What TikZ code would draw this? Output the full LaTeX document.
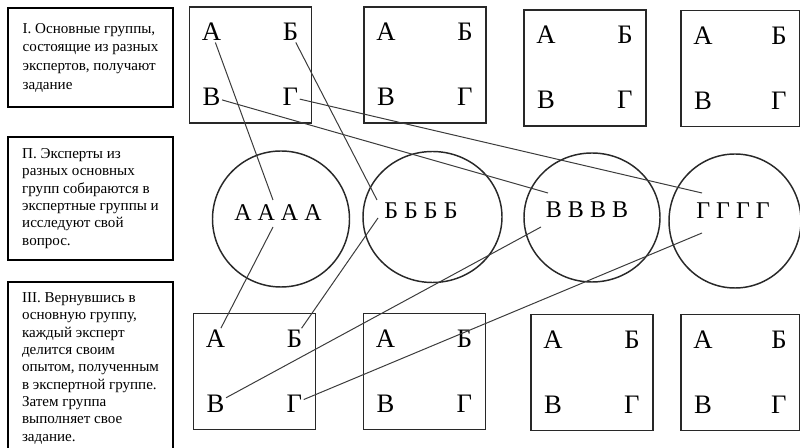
\documentclass[tikz,border=0pt]{standalone}
\usepackage{fontspec}
\setmainfont{Liberation Serif}
\usetikzlibrary{positioning,shapes.geometric}
\definecolor{LineGray}{RGB}{60,60,60}
\definecolor{FrameDark}{RGB}{40,40,40}
\tikzset{
  stage/.style={draw=black,line width=0.8pt,align=left,minimum width=123.75pt,inner sep=0pt,
    font=\fontsize{11.3}{13}\selectfont},
  grp/.style={draw=FrameDark,line width=1.4pt,minimum width=91.5pt,minimum height=87pt,inner sep=0pt},
  let/.style={inner sep=1pt,font=\fontsize{20}{20}\selectfont},
}
\tikzset{pool/.style={ellipse,draw=FrameDark,line width=1.1pt,inner sep=0pt}, crowd/.style={inner sep=1pt,font=\fontsize{18}{18}\selectfont},link/.style={draw=LineGray,line width=0.75pt}}

\begin{document}
\begin{tikzpicture}[x=0.75pt,y=-0.75pt]
\useasboundingbox (0,0) rectangle (800,448);
% stages
\node[stage,minimum height=74.25pt,font=\fontsize{11.3}{14}\selectfont] (st1) at (90.5,57.5)
  {I. Основные группы,\\состоящие из разных\\экспертов, получают\\задание};
\node[stage,minimum height=92.25pt] (st2) at (90.5,198.5)
  {П. Эксперты из\\разных основных\\групп собираются  в\\экспертные группы и\\исследуют  свой\\вопрос.};
\node[stage,minimum height=129.75pt] (st3) at (90.5,368.5)
  {III. Вернувшись в\\основную группу,\\каждый эксперт\\делится своим\\опытом, полученным\\в экспертной группе.\\Затем группа\\выполняет свое\\задание.};
% groups
\foreach \n/\cx/\cy in {g1/250.5/65,g2/425/65,g3/585/68,g5/254.5/371.5,g6/424.5/371.5,g7/592/372.5}
  \node[grp] (\n) at (\cx,\cy) {};
\node[grp,minimum width=89.25pt] (g4) at (740.5,68.5) {};
\node[grp,minimum width=89.25pt] (g8) at (740.5,372.5) {};
\foreach \n in {g1,g2,g3,g4,g5,g6,g7,g8} {
  \node[let] (\n-a) at ([shift={(23,26)}]\n.north west) {А};
  \node[let] (\n-b) at ([shift={(-22,26)}]\n.north east) {Б};
  \node[let] (\n-v) at ([shift={(23,-27)}]\n.south west) {В};
  \node[let] (\n-g) at ([shift={(-22,-27)}]\n.south east) {Г};
}
% expert groups
\node[pool,minimum width=102.75pt,minimum height=102pt] (c1) at (281,219) {};
\node[pool,minimum width=104.25pt,minimum height=98.25pt] (c2) at (432.5,217) {};
\node[pool,minimum width=102pt,minimum height=96.75pt] (c3) at (592,217.5) {};
\node[pool,minimum width=99pt,minimum height=100.5pt] (c4) at (735,221) {};
\node[crowd] (e1) at (278,213) {А А А А};
\node[crowd] (e2) at (421,211) {Б Б Б Б};
\node[crowd] (e3) at (587,210) {В В В В};
\node[crowd] (e4) at (733,211) {Г Г Г Г};
\coordinate (in1) at (273,200);
\coordinate (in2) at (377,200);
\coordinate (in3) at (548,193);
\coordinate (in4) at (702,193);
\coordinate (out1) at (273,227);
\coordinate (out2) at (378,218);
\coordinate (out3) at (541,227);
\coordinate (out4) at (702,233);
\draw[link] (g1-a) -- (in1);
\draw[link] (g1-b) -- (in2);
\draw[link] (g1-v) -- (in3);
\draw[link] (g1-g) -- (in4);
\draw[link] (out1) -- (g5-a);
\draw[link] (out2) -- (g5-b);
\draw[link] (out3) -- (g5-v);
\draw[link] (out4) -- (g5-g);
\end{tikzpicture}
\end{document}
